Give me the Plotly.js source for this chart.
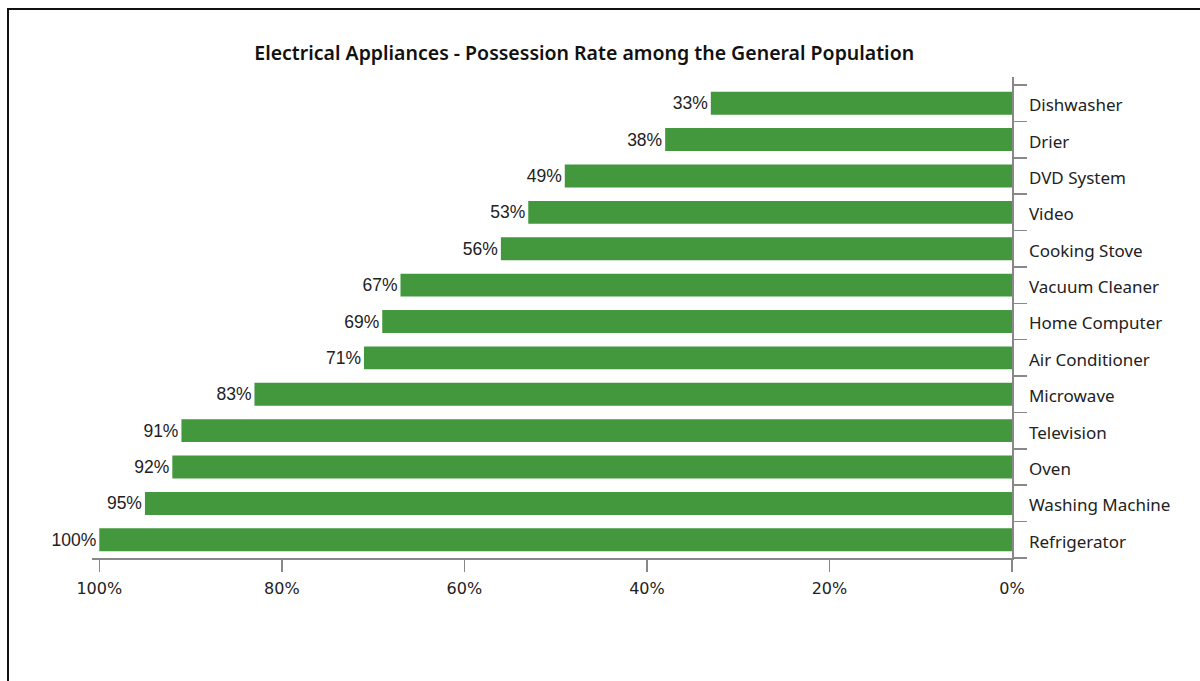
<!DOCTYPE html>
<html>
<head>
<meta charset="utf-8">
<script src="https://cdn.plot.ly/plotly-3.0.1.min.js"></script>
<style>
  html, body { margin: 0; padding: 0; background: #fff; }
  #wrap { position: relative; width: 1200px; height: 681px; }
  #chart { position: absolute; left: 0; top: 0; width: 1200px; height: 681px; }
  #frame { position: absolute; left: 7px; top: 8px; right: -4px; bottom: -4px;
           border-left: 2px solid #111; border-top: 2px solid #111; pointer-events: none; }
</style>
</head>
<body>
<div id="wrap">
  <div id="chart"></div>
  <div id="frame"></div>
</div>
<script>
// Appliances, listed bottom to top
const appliances = [
  'Refrigerator', 'Washing Machine', 'Oven', 'Television', 'Microwave',
  'Air Conditioner', 'Home Computer', 'Vacuum Cleaner', 'Cooking Stove',
  'Video', 'DVD System', 'Drier', 'Dishwasher'
];
// Possession rate, percent
const possessionRate = [100, 95, 92, 91, 83, 71, 69, 67, 56, 53, 49, 38, 33];
const xTickValues = [0, 20, 40, 60, 80, 100];
const xTickLabels = ['0%', '20%', '40%', '60%', '80%', '100%'];

const trace = {
  type: 'bar',
  orientation: 'h',
  x: possessionRate,
  y: appliances,
  width: 0.63,
  marker: { color: '#43973d' },
  text: possessionRate.map(v => v + '%'),
  textposition: 'outside',
  textfont: { family: 'Liberation Sans, Arial, sans-serif', size: 17.5, color: '#222' },
  cliponaxis: false,
  hoverinfo: 'x+y'
};

const layout = {
  width: 1200,
  height: 681,
  margin: { l: 92, r: 188, t: 77, b: 123 },
  paper_bgcolor: '#fff',
  plot_bgcolor: '#fff',
  showlegend: false,
  title: {
    text: 'Electrical Appliances - Possession Rate among the General Population',
    font: { family: 'Noto Sans, sans-serif', size: 19.5, color: '#111', weight: 600 },
    x: 0.535, xref: 'paper', xanchor: 'center',
    y: 0.922, yref: 'container', yanchor: 'middle'
  },
  xaxis: {
    range: [100.8, 0],
    tickvals: xTickValues,
    ticktext: xTickLabels,
    ticks: 'outside', ticklen: 12, tickwidth: 1.5, tickcolor: '#888',
    showline: true, linecolor: '#888', linewidth: 1.5,
    showgrid: false, zeroline: false,
    tickfont: { family: 'DejaVu Sans, sans-serif', size: 16, color: '#222' },
    ticklabelstandoff: 3,
    fixedrange: true
  },
  yaxis: {
    type: 'category',
    side: 'right',
    range: [-0.5, 12.72],
    tickson: 'boundaries',
    ticks: 'outside', ticklen: 13, tickwidth: 1.5, tickcolor: '#888',
    showline: true, linecolor: '#888', linewidth: 1.5,
    showgrid: false, zeroline: false,
    tickfont: { family: 'Noto Sans, sans-serif', size: 17, color: '#222' },
    ticklabelstandoff: 12,
    ticklabelshift: 2,
    fixedrange: true
  },
  bargap: 0.37
};

Plotly.newPlot('chart', [trace], layout, { displayModeBar: false, staticPlot: true });
</script>
</body>
</html>
